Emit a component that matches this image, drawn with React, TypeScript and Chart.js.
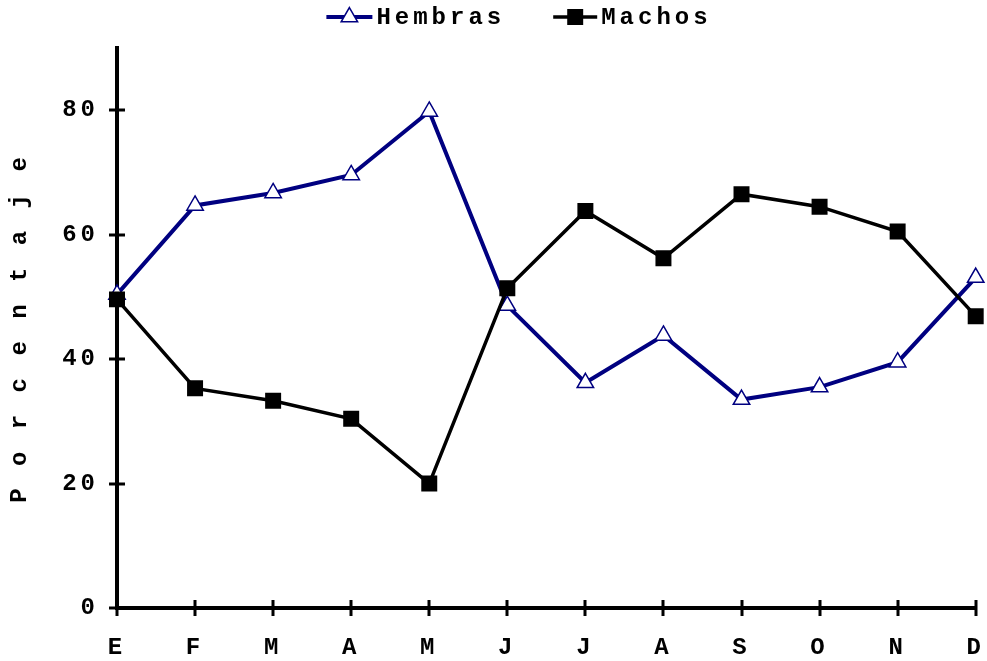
import React, { useEffect, useRef } from "react";
import { Chart, registerables } from "chart.js";

Chart.register(...registerables);

const months = ["E", "F", "M", "A", "M", "J", "J", "A", "S", "O", "N", "D"];
const hembras = [50.4, 64.7, 66.7, 69.6, 79.8, 48.6, 36.2, 43.8, 33.5, 35.5, 39.5, 53.1];
const machos = [49.6, 35.3, 33.3, 30.4, 20.0, 51.4, 63.8, 56.2, 66.5, 64.5, 60.5, 46.9];
const yTitle = "P o r c e n t a j e";

const FONT = "'Liberation Mono', 'Courier New', monospace";
const FSIZE = 24;
const SPACING = "4px";
const NAVY = "#000080";

const spacingPlugin = {
  id: "spacing",
  beforeUpdate(chart: any) {
    chart.ctx.letterSpacing = SPACING;
  },
  beforeDraw(chart: any) {
    chart.ctx.letterSpacing = SPACING;
  },
};

const crossTicks = {
  id: "crossTicks",
  beforeDatasetsDraw(chart: any) {
    const { ctx, chartArea, scales } = chart;
    const half = 8;
    ctx.save();
    ctx.strokeStyle = "#000";
    ctx.lineWidth = 3;
    ctx.beginPath();
    scales.y.ticks.forEach((t: any) => {
      const py = Math.round(scales.y.getPixelForValue(t.value));
      ctx.moveTo(chartArea.left - half, py);
      ctx.lineTo(chartArea.left + half, py);
    });
    scales.x.ticks.forEach((_t: any, i: number) => {
      const px = Math.round(scales.x.getPixelForTick(i));
      ctx.moveTo(px, chartArea.bottom - half);
      ctx.lineTo(px, chartArea.bottom + half);
    });
    ctx.stroke();
    ctx.restore();
  },
};

const customLegend = {
  id: "customLegend",
  afterDraw(chart: any) {
    const { ctx } = chart;
    const items = [
      { ds: chart.data.datasets[0], lineW: 46 },
      { ds: chart.data.datasets[1], lineW: 44 },
    ];
    ctx.save();
    ctx.letterSpacing = SPACING;
    ctx.font = `bold ${FSIZE}px ${FONT}`;
    ctx.textBaseline = "middle";
    ctx.textAlign = "left";
    const gapText = 4;
    const gapItems = 48;
    const widths = items.map((it) => it.lineW + gapText + ctx.measureText(it.ds.label).width);
    const total = widths.reduce((a, b) => a + b, 0) + gapItems;
    let x = 519 - total / 2;
    const y = 17;
    items.forEach((it, i) => {
      const ds = it.ds;
      ctx.strokeStyle = ds.borderColor;
      ctx.lineWidth = ds.borderWidth;
      ctx.beginPath();
      ctx.moveTo(x, y);
      ctx.lineTo(x + it.lineW, y);
      ctx.stroke();
      const cx = x + it.lineW / 2;
      const r = ds.pointRadius;
      ctx.fillStyle = ds.pointBackgroundColor;
      ctx.strokeStyle = ds.pointBorderColor;
      ctx.lineWidth = ds.pointBorderWidth;
      ctx.beginPath();
      if (ds.pointStyle === "triangle") {
        let rad = 0;
        ctx.moveTo(cx + Math.sin(rad) * r, y - Math.cos(rad) * r);
        rad += (2 * Math.PI) / 3;
        ctx.lineTo(cx + Math.sin(rad) * r, y - Math.cos(rad) * r);
        rad += (2 * Math.PI) / 3;
        ctx.lineTo(cx + Math.sin(rad) * r, y - Math.cos(rad) * r);
        ctx.closePath();
      } else {
        const s = Math.SQRT1_2 * r;
        ctx.rect(cx - s, y - s, 2 * s, 2 * s);
      }
      ctx.fill();
      if (ds.pointBorderWidth > 0) ctx.stroke();
      ctx.fillStyle = "#000";
      ctx.fillText(ds.label, x + it.lineW + gapText, y + 1);
      x += widths[i] + gapItems;
    });
    ctx.restore();
  },
};

export default function App() {
  const ref = useRef<HTMLCanvasElement>(null);
  useEffect(() => {
    document.body.style.margin = "0";
    const chart = new Chart(ref.current as HTMLCanvasElement, {
      type: "line",
      data: {
        labels: months,
        datasets: [
          {
            label: "Hembras",
            data: hembras,
            borderColor: NAVY,
            borderWidth: 4,
            pointStyle: "triangle",
            pointRadius: 9.5,
            pointBackgroundColor: "#fff",
            pointBorderColor: NAVY,
            pointBorderWidth: 1.5,
            tension: 0,
            order: 1,
          } as any,
          {
            label: "Machos",
            data: machos,
            borderColor: "#000",
            borderWidth: 3.5,
            pointStyle: "rect",
            pointRadius: 11.3,
            pointBackgroundColor: "#000",
            pointBorderColor: "#000",
            pointBorderWidth: 0,
            tension: 0,
            order: 0,
          } as any,
        ],
      },
      options: {
        responsive: false,
        animation: false,
        layout: { padding: { top: 48, right: 11, bottom: 0, left: 0 } },
        plugins: {
          legend: { display: false },
          tooltip: { enabled: false },
        },
        scales: {
          x: {
            type: "category",
            offset: false,
            grid: { display: true, drawOnChartArea: false, drawTicks: false },
            border: { display: true, color: "#000", width: 4 },
            ticks: {
              color: "#000",
              padding: 26,
              maxRotation: 0,
              autoSkip: false,
              font: { family: FONT, size: FSIZE, weight: "bold" },
            },
            afterFit(scale: any) {
              scale.height = 53;
              scale.paddingLeft = 0;
              scale.paddingRight = 0;
            },
          },
          y: {
            min: 0,
            max: 90,
            grid: { display: true, drawOnChartArea: false, drawTicks: false },
            border: { display: true, color: "#000", width: 4 },
            ticks: {
              stepSize: 20,
              includeBounds: false,
              color: "#000",
              padding: 18,
              font: { family: FONT, size: FSIZE, weight: "bold" },
            },
            title: {
              display: true,
              text: yTitle,
              color: "#000",
              padding: { top: 6, bottom: 0 },
              font: { family: FONT, size: FSIZE, weight: "bold" },
            },
            afterFit(scale: any) {
              scale.width = 117;
              scale.paddingTop = 0;
              scale.paddingBottom = 0;
            },
          },
        },
      } as any,
      plugins: [spacingPlugin, crossTicks, customLegend],
    });
    return () => chart.destroy();
  }, []);
  return <canvas ref={ref} width={987} height={661} style={{ display: "block" }} />;
}
